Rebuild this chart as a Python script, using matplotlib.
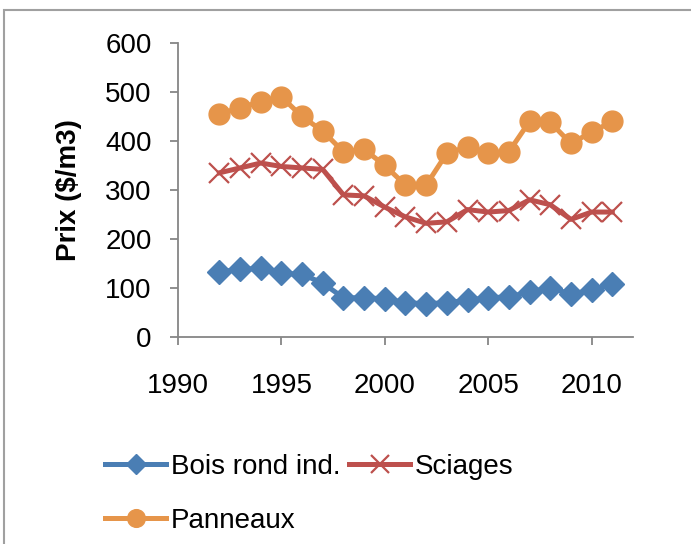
import matplotlib.pyplot as plt
from matplotlib.patches import Rectangle

# Données
years = list(range(1992, 2012))
bois_rond = [133, 138, 140, 130, 128, 110, 80, 80, 78, 70,
             68, 70, 75, 80, 82, 92, 100, 88, 95, 108]
sciages = [335, 345, 355, 348, 345, 342, 290, 288, 265, 245,
           232, 235, 260, 255, 258, 280, 270, 240, 255, 255]
panneaux = [455, 468, 480, 490, 450, 420, 378, 383, 350, 310,
            310, 375, 388, 375, 378, 440, 438, 395, 418, 440]

plt.rcParams['font.family'] = ['Liberation Sans', 'DejaVu Sans']

fig = plt.figure(figsize=(6.91, 5.44), dpi=100)
ax = fig.add_axes([0.2576, 0.3805, 0.6584, 0.5405])

h_bois, = ax.plot(years, bois_rond, color='#4a7eb4', linewidth=3.6, marker='D',
                  markersize=12, label='Bois rond ind.')
h_sci, = ax.plot(years, sciages, color='#bd504d', linewidth=3.6, marker='x',
                 markersize=15, markeredgewidth=1.6, label='Sciages')
h_pan, = ax.plot(years, panneaux, color='#e6954a', linewidth=3.6, marker='o',
                 markersize=15, label='Panneaux')

ax.set_xlim(1990, 2012)
ax.set_ylim(0, 600)
ax.set_xticks([1990, 1995, 2000, 2005, 2010])
ax.set_yticks(range(0, 601, 100))
ax.tick_params(labelsize=20, color='#868686', length=6, width=1.3)
ax.tick_params(axis='x', pad=20)
ax.tick_params(axis='y', pad=13)
for side in ('top', 'right'):
    ax.spines[side].set_visible(False)
for side in ('left', 'bottom'):
    ax.spines[side].set_color('#868686')
    ax.spines[side].set_linewidth(1.3)

ax.set_ylabel('Prix ($/m3)', fontsize=20, fontweight='bold', labelpad=17)

# ordre pour obtenir : ligne 1 = Bois, Sciages ; ligne 2 = Panneaux
leg = fig.legend([h_bois, h_pan, h_sci], ['Bois rond ind.', 'Panneaux', 'Sciages'],
                 loc='upper left', bbox_to_anchor=(0.132, 0.191), ncol=2,
                 frameon=False, fontsize=20, handlelength=2.2,
                 handletextpad=0.18, columnspacing=0.3, labelspacing=1.0,
                 borderpad=0, markerscale=0.85)

# cadre gris autour de la figure
fig.patches.append(Rectangle((0.006, -0.01), 1.2, 0.992,
                             transform=fig.transFigure, fill=False,
                             edgecolor='#a0a0a0', linewidth=1.5))

fig.savefig('out.png', dpi=100)
